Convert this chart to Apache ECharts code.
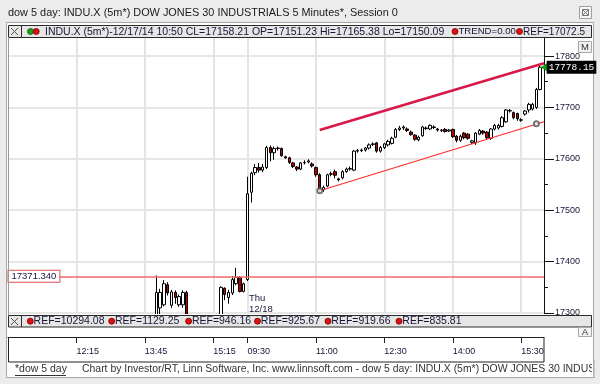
<!DOCTYPE html>
<html><head><meta charset="utf-8">
<script src="https://cdn.jsdelivr.net/npm/echarts@6/dist/echarts.min.js"></script>
<style>html,body{margin:0;padding:0;background:#ececec}#c{width:600px;height:384px}</style>
</head><body><div id="c"></div>
<script>
// ---- axis categories: 5-minute slots, 12/17 10:45-15:55 and 12/18 09:30-16:00
function slots(day, h0, m0, h1, m1) {
  const out = [];
  for (let t = h0 * 60 + m0; t <= h1 * 60 + m1; t += 5) {
    out.push(day + ' ' + String(Math.floor(t / 60)).padStart(2, '0') + ':' + String(t % 60).padStart(2, '0'));
  }
  return out;
}
const categories = slots('12/17', 10, 45, 15, 55).concat(slots('12/18', 9, 30, 16, 0));
const tickLabels = ['12/17 12:15', '12/17 13:45', '12/17 15:15', '12/18 09:30', '12/18 11:00', '12/18 12:30', '12/18 14:00', '12/18 15:30'];
const yTicks = [17300, 17400, 17500, 17600, 17700, 17800];

// ---- candles [open, close, low, high]
const day1Candles = [
  [17140,17151,17135,17155],[17151.23,17158.21,17150.09,17165.38],[17158,17166,17152,17170],[17166,17160,17155,17172],
  [17160,17148,17144,17163],[17148,17152,17140,17158],[17152,17170,17150,17174],[17170,17178,17165,17183],
  [17178,17172,17168,17182],[17172,17180,17170,17186],[17180,17186,17176,17190],[17186,17181,17177,17189],
  [17181,17175,17170,17184],[17175,17183,17173,17187],[17183,17190,17180,17194],[17190,17185,17182,17193],
  [17185,17179,17176,17188],[17179,17184,17175,17188],[17184,17192,17182,17195],[17192,17198,17189,17202],
  [17198,17194,17190,17201],[17194,17188,17185,17197],[17188,17193,17184,17196],[17193,17201,17190,17204],
  [17201,17206,17197,17209],[17206,17200,17196,17208],[17200,17195,17191,17203],[17195,17203,17193,17206],
  [17203,17210,17200,17213],[17210,17205,17202,17214],[17205,17198,17195,17208],[17198,17204,17196,17207],
  [17204,17212,17202,17215],[17212,17208,17205,17215],[17208,17215,17206,17218],[17215,17220,17212,17224],
  [17220,17214,17210,17223],[17214,17222,17211,17226],[17222,17228,17218,17232],
  [17228,17340,17215,17373],[17310,17340,17297,17347],[17316,17357,17313,17364],[17355,17339,17334,17360],
  [17315,17341,17310,17345],[17340,17330,17318,17344],[17316,17332,17312,17336],[17316,17340,17310,17344],
  [17340,17270,17262,17343],[17270,17255,17240,17278],[17255,17262,17245,17270],[17262,17250,17238,17268],
  [17250,17258,17242,17266],[17258,17266,17250,17272],[17266,17260,17252,17275],[17260,17270,17255,17280],
  [17270,17285,17266,17292],[17285,17350,17280,17352],[17348,17336,17325,17350],[17330,17340,17318,17345],
  [17339,17365,17335,17372],[17357,17369,17354,17388],[17369,17342,17340,17372],[17342,17356.87,17340,17359]
];
const day2Candles = [
  [17365,17532,17362,17565],[17535,17572,17515,17575],[17573,17583,17568,17590],[17583,17578,17573,17592],
  [17578,17584,17574,17590],[17583,17622,17580,17625],[17622,17612,17595,17626],[17612,17620,17598,17624],
  [17620,17621,17616,17624],[17620,17606,17604,17622],[17604,17602,17600,17606],[17602,17593,17590,17604],
  [17592,17585,17582,17594],[17584,17580,17576,17586],[17580,17592,17578,17594],[17592,17593,17589,17597],
  [17594,17596,17591,17599],[17590,17586,17583,17593],[17583,17569,17565,17585],[17569,17540,17535,17572],
  [17540,17544,17536,17548],[17547,17569,17545,17571],[17570,17571,17566,17575],[17575,17568,17562,17579],
  [17561,17559,17556,17563],[17563,17575,17560,17578],[17575,17580,17573,17583],[17580,17581,17577,17585],
  [17578,17615,17576,17617],[17615,17616,17612,17619],[17616,17617,17613,17620],[17617,17621,17614,17623],
  [17621,17627,17618,17630],[17628,17629,17625,17632],[17631,17615,17612,17633],[17615,17622,17612,17625],
  [17622,17629,17619,17631],[17627,17634,17624,17637],[17630,17640,17628,17643],[17642,17657,17640,17660],
  [17657,17660,17654,17664],[17660,17662,17656,17665],[17658,17655,17652,17661],[17652,17647,17645,17655],
  [17646,17638,17635,17648],[17637,17642,17634,17645],[17645,17662,17643,17664],[17659,17660,17656,17663],
  [17658,17665,17656,17667],[17661,17662,17658,17665],[17658,17656,17653,17660],[17655,17656,17652,17658],
  [17657,17653,17651,17660],[17654,17656,17652,17658],[17657,17643,17641,17659],[17644,17636,17632,17646],
  [17636,17644,17633,17647],[17650,17641,17638,17652],[17648,17640,17637,17650],[17632,17635,17629,17637],
  [17631,17650,17627,17652],[17648,17655,17646,17658],[17654,17650,17647,17656],[17652,17641,17638,17654],
  [17640,17658,17637,17660],[17658,17665,17655,17668],[17660,17665,17657,17668],[17663,17680,17661,17683],
  [17672,17695,17670,17697],[17693,17694,17690,17697],[17690,17680,17677,17692],[17688,17678,17674,17690],
  [17675,17676,17672,17679],[17687,17693,17684,17695],[17695,17706,17690,17709],[17697,17706,17694,17709],
  [17700,17735,17697,17738],[17735,17778.15,17733,17781]
];
const lastClose = ['12/18 15:55', 17778.15];
const refLevel = 17371.34;
const upperTrend = [['12/18 11:05', 17656], ['12/18 16:00', 17786]];
const lowerTrend = [['12/18 11:05', 17538], ['12/18 16:00', 17672]];
const lowerTrendAnchors = [['12/18 11:05', 17538], ['12/18 15:50', 17668]];
const dayMarker = ['12/18 09:30', 17318];

const legendMain = 'INDU.X (5m*)-12/17/14 10:50 CL=17158.21 OP=17151.23 Hi=17165.38 Lo=17150.09';
const refValues = ['10294.08', '1129.25', '946.16', '925.67', '919.66', '835.81'];

const UI = 'Liberation Sans';
const txt = '#15153a';
const candleData = day1Candles.concat(day2Candles);

function dot(cx, cy, fill, stroke) {
  return { type: 'circle', zlevel: 1, shape: { cx: cx, cy: cy, r: 3 }, style: { fill: fill, stroke: stroke, lineWidth: 0.8 }, z: 20 };
}
function text(x, y, s, size, extra) {
  return { type: 'text', zlevel: 1, z: 21, style: Object.assign({ text: s, x: x, y: y, fill: txt, font: size + 'px "' + UI + '"', textVerticalAlign: 'middle' }, extra || {}) };
}
function box(x, y, w, h, fill, stroke, z) {
  return { type: 'rect', zlevel: 1, z: z || 19, shape: { x: x, y: y, width: w, height: h }, style: { fill: fill, stroke: stroke } };
}
function seg(x1, y1, x2, y2, stroke) {
  return { type: 'line', zlevel: 1, z: 20, shape: { x1: x1, y1: y1, x2: x2, y2: y2 }, style: { stroke: stroke } };
}
const refDotX = [30.3, 111.7, 188.6, 257.5, 328, 399];
const graphics = [
  { type: 'rect', z: -100, shape: { x: 6.5, y: 22.5, width: 587, height: 355 }, style: { fill: '#ffffff', stroke: '#a4a4a4' } },
  // white cover under the plot (zlevel 0, above candles, below the label axis)
  { type: 'rect', z: 10, shape: { x: 8, y: 314, width: 537, height: 48 }, style: { fill: '#ffffff' } },
  text(8, 13, 'dow 5 day: INDU.X (5m*) DOW JONES 30 INDUSTRIALS 5 Minutes*, Session 0', 10.9, { fill: '#1a1a1a' }),
  box(579.5, 6.5, 12, 12, '#f6f6f6', '#a0a0a0', 20),
  box(582.5, 9.5, 6, 6, 'none', '#777', 21),
  seg(583, 10, 588, 15, '#777'), seg(588, 10, 583, 15, '#777'),
  // legend strip
  box(8.5, 25.5, 583, 12, '#e6e6e6', '#2a2a2a'),
  seg(21.5, 25.5, 21.5, 37.5, '#2a2a2a'),
  seg(11, 28, 18, 35, '#555'), seg(18, 28, 11, 35, '#555'),
  dot(30.5, 31.5, '#18a018', '#0b5a0b'), dot(36.2, 31.5, '#e01010', '#700'),
  text(45, 31.8, legendMain, 10.5),
  dot(455, 31.5, '#e01010', '#700'), text(458.5, 31.8, 'TREND=0.00', 9.6),
  dot(519.5, 31.5, '#e01010', '#700'),
  text(523, 31.8, 'REF=17072.52', 10, { width: 68, overflow: 'truncate', ellipsis: '' }),
  // plot left edge
  seg(8.5, 37, 8.5, 315, '#9a9a9a'),
  // M button
  box(578.5, 41.5, 13, 11, '#f2f2f2', '#a8a8a8', 20),
  text(585, 47.3, 'M', 9.5, { textAlign: 'center', fill: '#333' }),
  // REF strip
  box(8.5, 315.5, 583, 11.5, '#e6e6e6', '#2a2a2a'),
  seg(21.5, 315.5, 21.5, 327, '#2a2a2a'),
  seg(11, 318, 18, 325, '#555'), seg(18, 318, 11, 325, '#555'),
  // A button
  box(578.5, 327.5, 13, 9, '#f2f2f2', '#a8a8a8', 20),
  text(585, 332.3, 'A', 9, { textAlign: 'center', fill: '#333' }),
  // x axis box
  box(8.5, 337.5, 535.5, 24.5, 'none', '#222'),
  // footer
  text(15, 369.5, '*dow 5 day', 10.5, { fill: '#333' }),
  seg(15, 375.5, 66, 375.5, '#333'),
  text(82, 369.5, 'Chart by Investor/RT, Linn Software, Inc. www.linnsoft.com - dow 5 day: INDU.X (5m*) DOW JONES 30 INDUSTRIALS 5 Minutes*, Session 0', 10.45, { fill: '#333' }),
  // clip the footer at the panel edge
  box(592, 363, 1.5, 14, '#ffffff', null, 30),
  box(594, 360, 6, 20, '#ececec', null, 30),
  seg(594, 360, 594, 378, '#a4a4a4')
];
graphics[graphics.length - 1].z = 31;
refValues.forEach(function (v, i) {
  graphics.push(dot(refDotX[i], 321.2, '#e01010', '#700'));
  graphics.push(text(refDotX[i] + 3.3, 321.5, 'REF=' + v, 10.5));
});

const chart = echarts.init(document.getElementById('c'), null, { renderer: 'canvas' });
const isTick = function (idx) { return tickLabels.indexOf(categories[idx]) >= 0; };
chart.setOption({
  backgroundColor: '#ececec',
  animation: false,
  grid: { left: 8, right: 56, top: 37, bottom: 71, containLabel: false },
  xAxis: [
    {
      type: 'category', data: categories, boundaryGap: false, position: 'bottom',
      axisLine: { show: false }, axisTick: { show: false }, axisLabel: { show: false },
      splitLine: { show: true, interval: isTick, lineStyle: { color: '#e4e4e4', width: 2 } }
    },
    {
      type: 'category', data: categories, boundaryGap: false, position: 'bottom', offset: 24, z: 20,
      axisLine: { show: true, lineStyle: { color: '#222', width: 1 } },
      axisTick: { show: true, interval: isTick, length: 6, lineStyle: { color: '#222' } },
      axisLabel: { interval: isTick, align: 'left', margin: 10, fontSize: 9, color: txt, fontFamily: UI,
                   formatter: function (v) { return v.slice(6); } },
      splitLine: { show: false }
    }
  ],
  yAxis: {
    type: 'value', position: 'right', min: yTicks[0], max: 17837, interval: 100, scale: true,
    axisLine: { show: true, lineStyle: { color: '#111', width: 1 } },
    axisTick: { show: true, length: 10, lineStyle: { color: '#111' } },
    minorTick: { show: true, splitNumber: 2, length: 4, lineStyle: { color: '#111' } },
    axisLabel: { margin: 11, fontSize: 9, color: txt, fontFamily: UI, showMaxLabel: false,
                 formatter: function (v) { return yTicks.indexOf(v) >= 0 ? String(v) : ''; } },
    splitLine: { show: true, lineStyle: { color: '#e6e6e6', width: 2 } }
  },
  graphic: { elements: graphics },
  series: [
    {
      type: 'candlestick', data: candleData, barWidth: 3, clip: true, z: 3, xAxisIndex: 0,
      itemStyle: { color: '#ffffff', color0: '#b00000', borderColor: '#000', borderColor0: '#000', borderWidth: 1 },
      markLine: {
        silent: true, symbol: 'none', animation: false,
        lineStyle: { color: '#f06a6a', width: 1.5, type: 'solid' },
        label: { show: false },
        data: [{ yAxis: refLevel }]
      },
      markPoint: {
        silent: true, animation: false,
        data: [
          { coord: [categories[0], refLevel], symbol: 'rect', symbolSize: 1, itemStyle: { color: 'rgba(0,0,0,0)' },
            label: { show: true, position: 'right', distance: 0, formatter: refLevel.toFixed(3), color: txt, fontSize: 9.5, fontFamily: UI,
                     backgroundColor: '#fff', borderColor: '#e05050', borderWidth: 1, padding: [1, 3, 0, 3] } },
          { coord: dayMarker, symbol: 'rect', symbolSize: 1, itemStyle: { color: 'rgba(0,0,0,0)' },
            label: { show: true, position: 'right', distance: 1, formatter: 'Thu\n12/18', color: txt, fontSize: 9.5, lineHeight: 11, fontFamily: UI, align: 'left' } },
          { coord: lastClose, symbol: 'triangle', symbolSize: [9, 7], symbolRotate: 90, symbolOffset: [4, 0], itemStyle: { color: '#10a010' }, label: { show: false } },
          { coord: lastClose, symbol: 'rect', symbolSize: 1, itemStyle: { color: 'rgba(0,0,0,0)' },
            label: { show: true, position: 'right', distance: 6, formatter: String(lastClose[1]), color: '#fff', backgroundColor: '#000',
                     fontSize: 9.5, fontFamily: 'Liberation Mono', padding: [2, 2, 1, 2] } }
        ]
      }
    },
    { type: 'line', data: upperTrend, xAxisIndex: 0, symbol: 'none', z: 4, lineStyle: { color: '#d81848', width: 2.5 } },
    { type: 'line', data: lowerTrend, xAxisIndex: 0, symbol: 'none', z: 4, lineStyle: { color: '#ff2a2a', width: 1.1 } },
    { type: 'scatter', data: lowerTrendAnchors, xAxisIndex: 0, symbol: 'emptyCircle', symbolSize: 5, z: 5, itemStyle: { color: '#555', borderColor: '#555', borderWidth: 1 } }
  ]
});
</script></body></html>
